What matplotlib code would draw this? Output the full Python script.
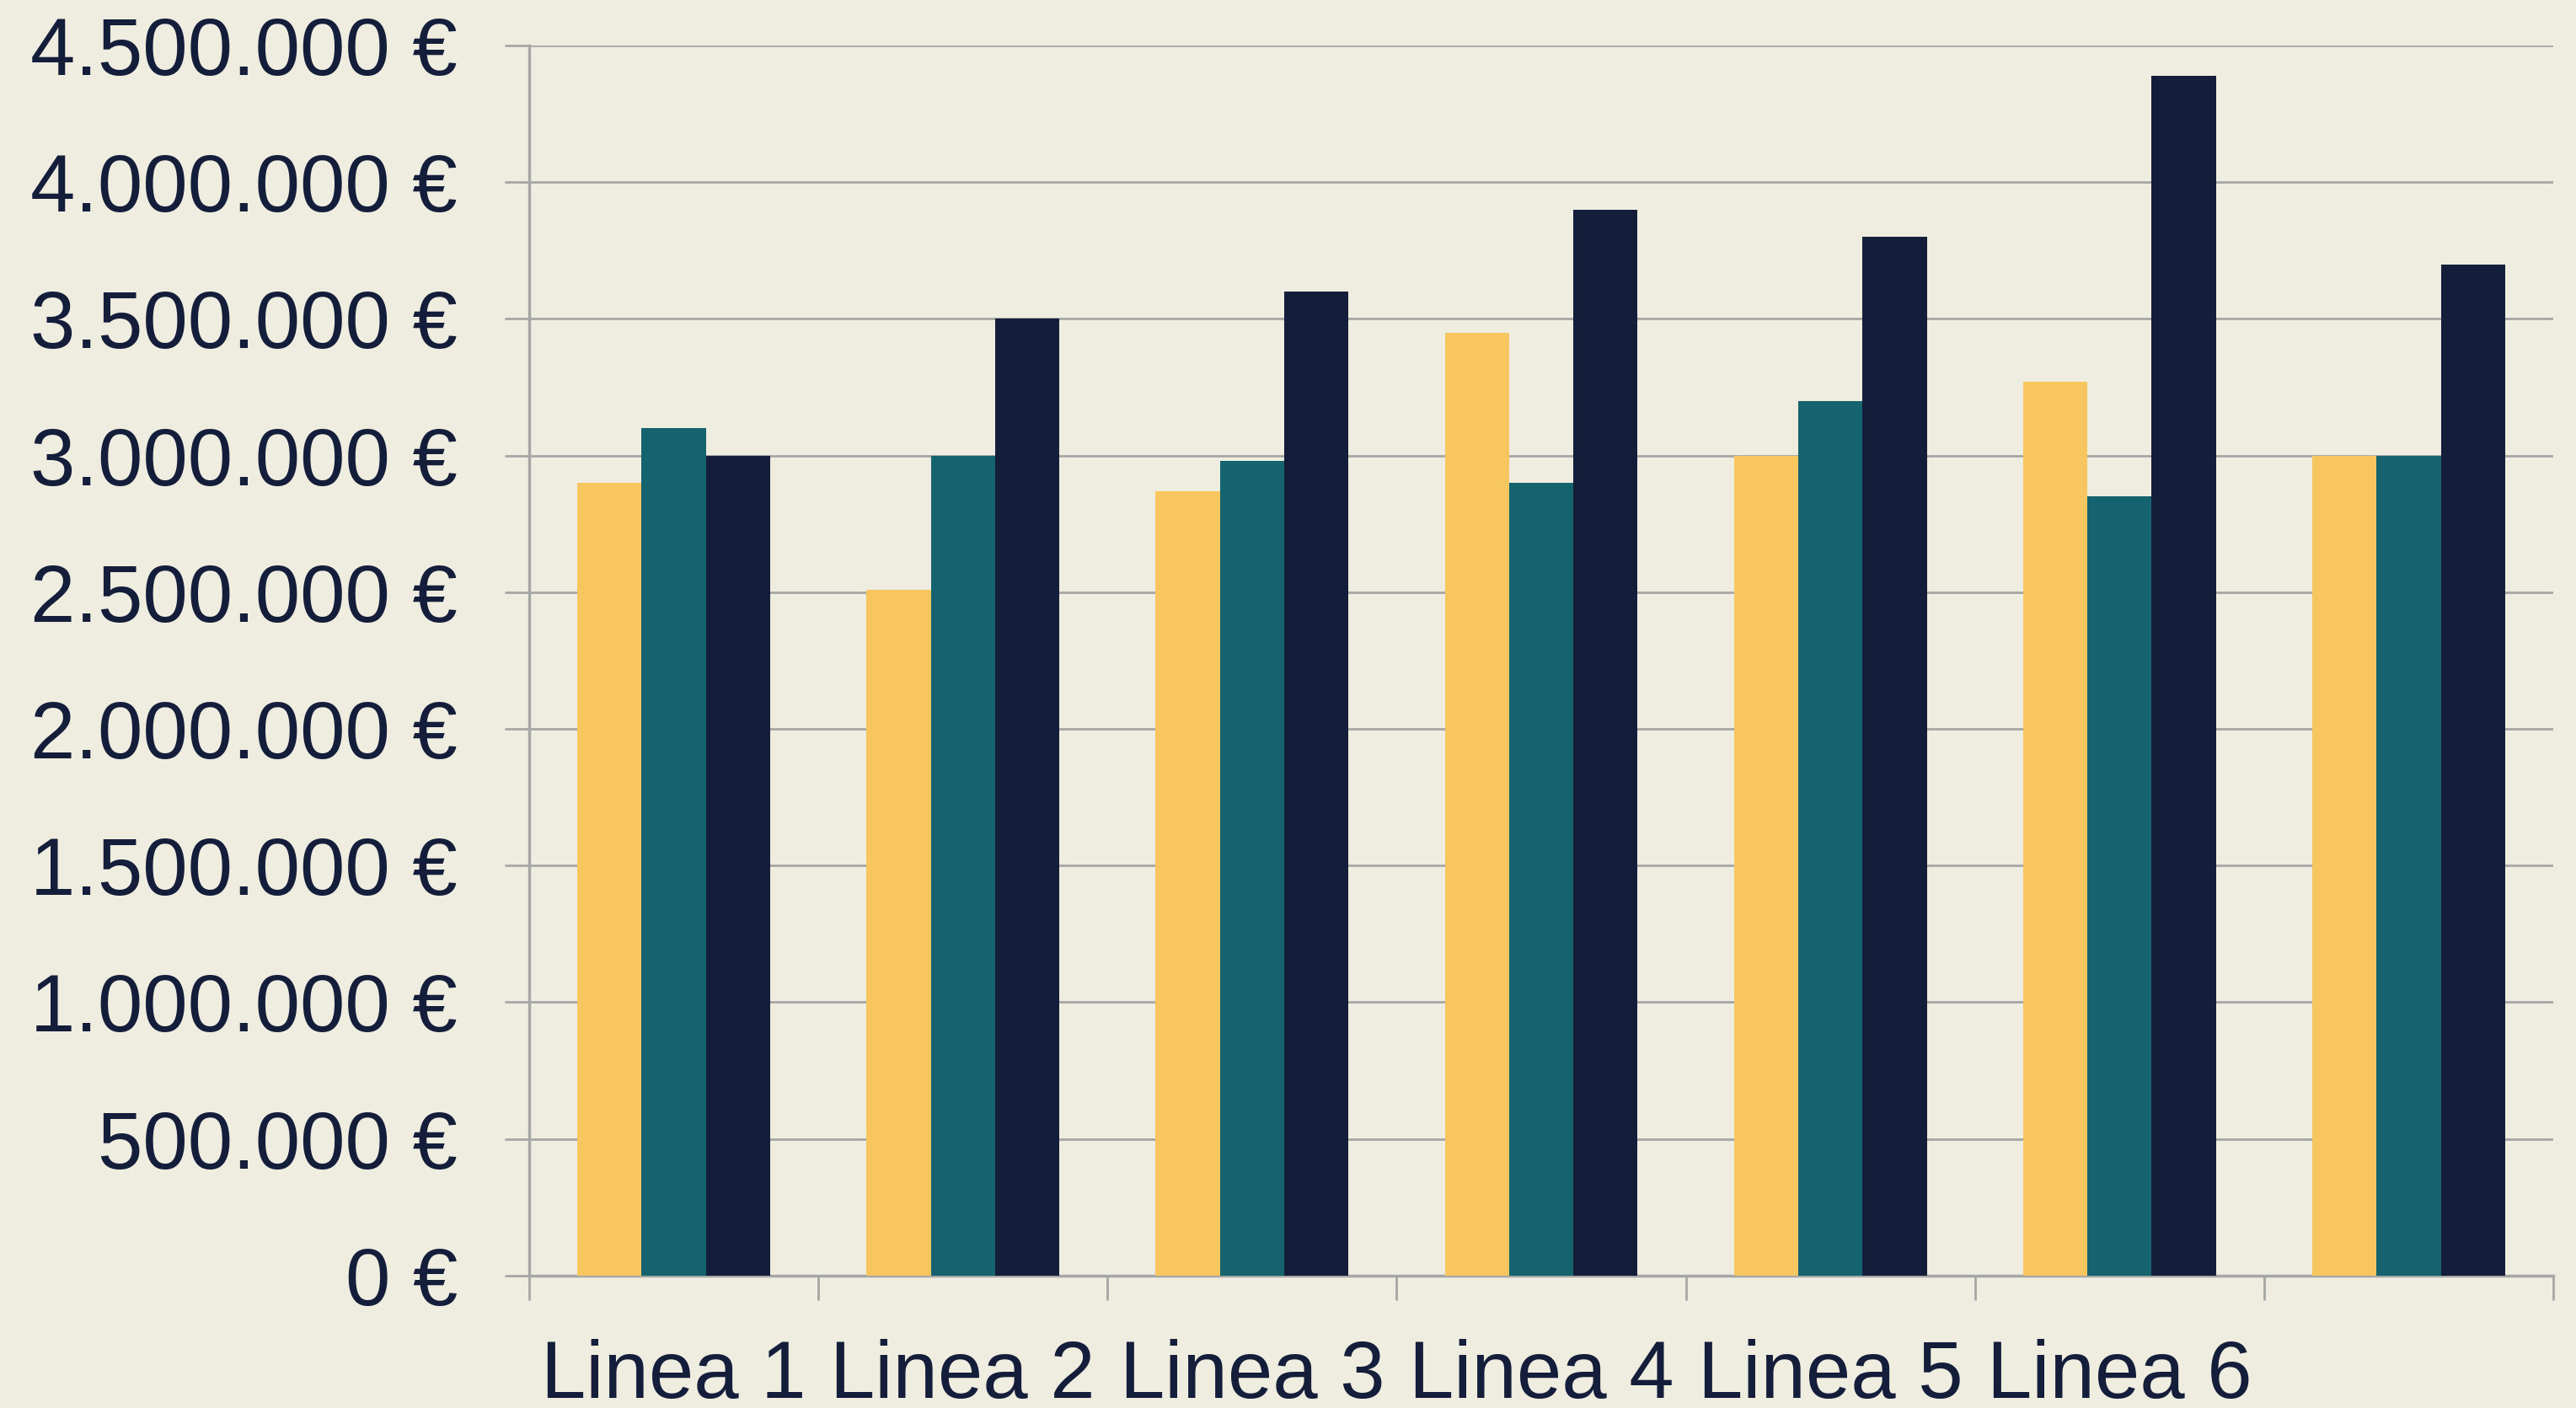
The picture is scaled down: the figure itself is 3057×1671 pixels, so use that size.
import numpy as np
import matplotlib.pyplot as plt
from matplotlib.ticker import FuncFormatter, MultipleLocator, FixedLocator

# data
labels = ['Linea 1', 'Linea 2', 'Linea 3', 'Linea 4', 'Linea 5', 'Linea 6', '']
serie_1 = [2900000, 2510000, 2870000, 3450000, 3000000, 3270000, 3000000]
serie_2 = [3100000, 3000000, 2980000, 2900000, 3200000, 2850000, 3000000]
serie_3 = [3000000, 3500000, 3600000, 3900000, 3800000, 4390000, 3700000]

bg = '#EFEDE0'
text_col = '#141E3A'
grid_col = '#A6A6A6'
colors = ['#F7C65E', '#166370', '#141E3A']

plt.rcParams['font.family'] = ['Liberation Sans', 'DejaVu Sans']

fig = plt.figure(figsize=(30.57, 16.71), dpi=100, facecolor=bg)
ax = fig.add_axes([0.2054, 0.0940, 0.9912 - 0.2054, 0.9677 - 0.0940])
ax.set_facecolor(bg)

x = np.arange(len(labels))
w = 1 / 4.5  # gap width 150 %
for i, (vals, c) in enumerate(zip([serie_1, serie_2, serie_3], colors)):
    ax.bar(x + (i - 1) * w, vals, width=w, color=c, zorder=3)

ax.set_xlim(-0.5, len(labels) - 0.5)
ax.set_ylim(0, 4500000)

ax.yaxis.set_major_locator(MultipleLocator(500000))
ax.yaxis.set_major_formatter(FuncFormatter(lambda v, p: f'{v:,.0f}'.replace(',', '.') + ' €'))
ax.grid(axis='y', color=grid_col, linewidth=2, zorder=0)

ax.xaxis.set_major_locator(FixedLocator(x))
ax.set_xticklabels(labels)
ax.xaxis.set_minor_locator(FixedLocator(np.arange(len(labels) + 1) - 0.5))
ax.tick_params(axis='x', which='major', length=0, pad=54, labelsize=69, labelcolor=text_col)
ax.tick_params(axis='x', which='minor', length=21, width=2, color=grid_col, direction='out')
ax.tick_params(axis='y', length=21, width=2, color=grid_col, pad=40, labelsize=69, labelcolor=text_col)

for s in ['top', 'right']:
    ax.spines[s].set_visible(False)
for s in ['left', 'bottom']:
    ax.spines[s].set_color(grid_col)
    ax.spines[s].set_linewidth(2.5)

fig.savefig('out.png', dpi=100, facecolor=bg)
